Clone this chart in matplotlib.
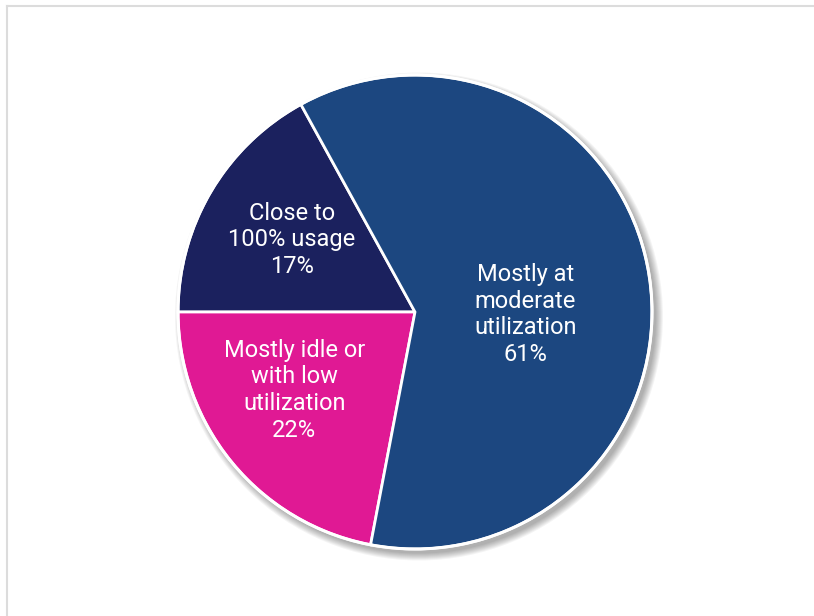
import matplotlib.pyplot as plt
from matplotlib.patches import Circle
from matplotlib.lines import Line2D

plt.rcParams['font.family'] = ['Roboto', 'DejaVu Sans']

labels = ['Close to\n100% usage', 'Mostly idle or\nwith low\nutilization', 'Mostly at\nmoderate\nutilization']
shares = [17, 22, 61]
colors = ['#1b215e', '#e01994', '#1c4780']
# where each label sits, as (x, y) in pie radii
label_pos = [(-0.52, 0.305), (-0.51, -0.33), (0.465, -0.01)]

W, H, dpi = 814, 616, 100
cx, cy, r = 415, 312, 237

fig = plt.figure(figsize=(W / dpi, H / dpi), dpi=dpi)
ax = fig.add_axes([0, 0, 1, 1])

# soft drop shadow behind the pie
for i in range(8):
    ax.add_patch(Circle((4.0 / r, -4.5 / r), 1 + (7 - i) * 1.0 / r,
                        color='black', alpha=0.045, lw=0, zorder=0))

wedges, _ = ax.pie(shares, colors=colors, startangle=118.8, counterclock=True,
                   radius=1, center=(0, 0), frame=True,
                   wedgeprops=dict(edgecolor='white', linewidth=2.0))
ax.set_xlim(-cx / r, (W - cx) / r)
ax.set_ylim(-(H - cy) / r, cy / r)
ax.axis('off')
# white rim round the whole pie
ax.add_patch(Circle((0, 0), 1, fill=False, edgecolor='white', lw=2.2, zorder=3))

for lab, val, (x, y) in zip(labels, shares, label_pos):
    ax.text(x, y, f'{lab}\n{val}%', ha='center', va='center', color='white',
            fontsize=17, linespacing=1.2, zorder=4)

# light grey frame along the top and left edges
fig.add_artist(Line2D([7 / W, 7 / W], [0, 1 - 6 / H], transform=fig.transFigure,
                      color='#dcdcdc', lw=1.5))
fig.add_artist(Line2D([7 / W, 1], [1 - 6 / H, 1 - 6 / H], transform=fig.transFigure,
                      color='#dcdcdc', lw=1.5))

fig.savefig('out.png', dpi=dpi)
